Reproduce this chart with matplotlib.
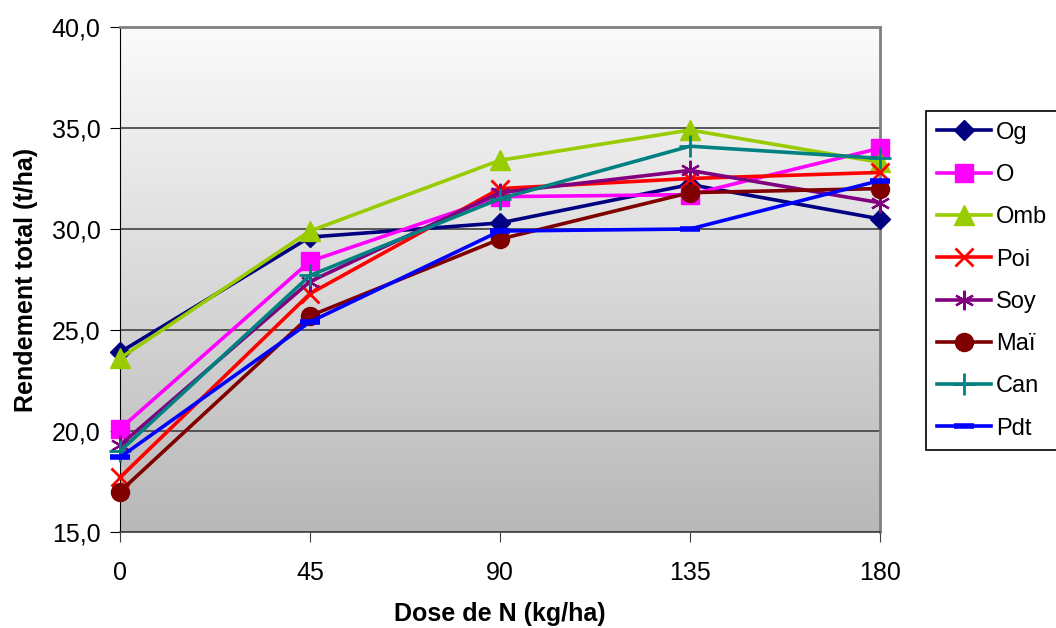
import numpy as np
import matplotlib
matplotlib.use('Agg')
import matplotlib.pyplot as plt
from matplotlib.ticker import FuncFormatter

plt.rcParams['font.family'] = ['Liberation Sans', 'DejaVu Sans']

doses = [0, 45, 90, 135, 180]
names = ['Og', 'O', 'Omb', 'Poi', 'Soy', 'Maï', 'Can', 'Pdt']
og = [23.9, 29.6, 30.3, 32.2, 30.5]
o = [20.1, 28.4, 31.6, 31.7, 34.0]
omb = [23.6, 29.9, 33.4, 34.9, 33.3]
poi = [17.7, 26.8, 32.0, 32.5, 32.8]
soy = [19.3, 27.4, 31.8, 32.9, 31.3]
mai = [17.0, 25.7, 29.5, 31.8, 32.0]
can = [19.0, 27.7, 31.5, 34.1, 33.5]
pdt = [18.7, 25.4, 29.9, 30.0, 32.4]
series = [og, o, omb, poi, soy, mai, can, pdt]

colors = ['#000080', '#ff00ff', '#99cc00', '#ff0000', '#800080', '#800000', '#008080', '#0000ff']
markers = ['D', 's', '^', 'x', (6, 2, 0), 'o', '+', '_']
msizes = [10, 13, 14, 13, 14, 13, 16, 15]
medges = [1, 1, 1, 2, 1.6, 1, 2, 4]

fig = plt.figure(figsize=(10.56, 6.28), dpi=100)
ax = fig.add_axes([120 / 1056, 1 - 532 / 628, 760 / 1056, 505 / 628])

# grey gradient background
grad = np.linspace(0, 1, 256).reshape(-1, 1)
ax.imshow(grad, cmap=matplotlib.colors.LinearSegmentedColormap.from_list('g', ['#fbfbfb', '#b8b8b8']),
          extent=[0, 1, 0, 1], transform=ax.transAxes, aspect='auto', zorder=0)

for vals, name, c, m, ms, mew in zip(series, names, colors, markers, msizes, medges):
    ax.plot(doses, vals, color=c, lw=2.6, marker=m, ms=ms, mec=c, mfc=c, mew=mew,
            label=name, clip_on=False, zorder=3)

ax.set_xlim(0, 180)
ax.set_ylim(15, 40)
ax.set_xticks(doses)
ax.set_yticks([15, 20, 25, 30, 35, 40])
ax.yaxis.set_major_formatter(FuncFormatter(lambda v, p: ('%.1f' % v).replace('.', ',')))
ax.grid(axis='y', color='#404040', lw=1.2, zorder=1)
ax.set_axisbelow(True)
for s in ['top', 'right']:
    ax.spines[s].set_color('#808080')
    ax.spines[s].set_linewidth(2)
ax.spines['left'].set_color('black')
ax.spines['bottom'].set_color('#404040')
ax.spines['bottom'].set_linewidth(1.2)
ax.tick_params(axis='both', direction='out', length=7, labelsize=18, pad=7)
ax.tick_params(axis='x', colors='#404040', labelcolor='black', pad=14)

ax.set_xlabel('Dose de N (kg/ha)', fontsize=18, fontweight='bold', labelpad=12)
ax.set_ylabel('Rendement total (t/ha)', fontsize=18, fontweight='bold', labelpad=10)

leg = fig.legend(loc='upper left', bbox_to_anchor=(926 / 1056, 1 - 111 / 628),
                 fontsize=17, frameon=True, fancybox=False, edgecolor='black',
                 framealpha=1, handlelength=2.3, handletextpad=0.2, labelspacing=0.86,
                 borderpad=0.45, borderaxespad=0)
leg.get_frame().set_linewidth(1.2)

fig.savefig('out.png', dpi=100)
